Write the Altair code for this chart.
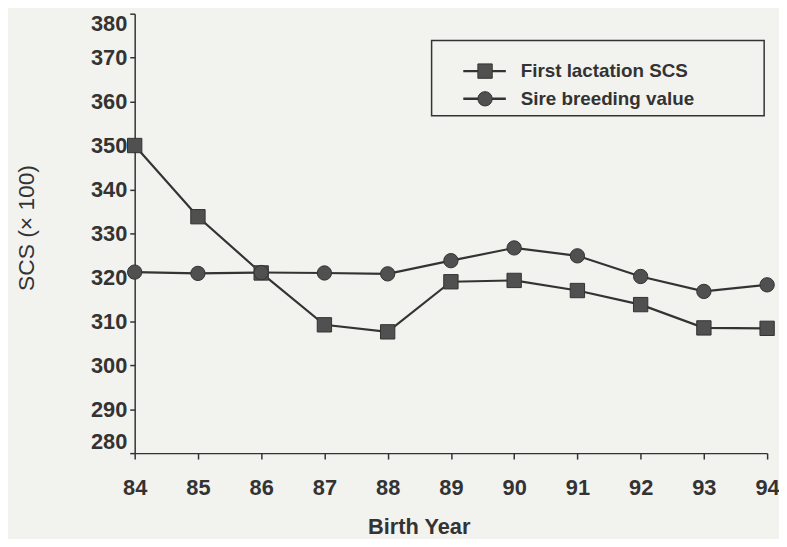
import altair as alt
import pandas as pd

years = [84, 85, 86, 87, 88, 89, 90, 91, 92, 93, 94]
first_lactation_scs = [350.0, 333.8, 321.0, 309.2, 307.6, 319.0, 319.3, 317.0, 313.8, 308.5, 308.4]
sire_breeding_value = [321.2, 320.9, 321.1, 321.0, 320.8, 323.8, 326.7, 324.9, 320.2, 316.8, 318.3]
series_names = ["First lactation SCS", "Sire breeding value"]
y_ticks = [280, 290, 300, 310, 320, 330, 340, 350, 360, 370, 380]

rows = []
for yr, v in zip(years, first_lactation_scs):
    rows.append({"year": yr, "scs": v, "series": series_names[0]})
for yr, v in zip(years, sire_breeding_value):
    rows.append({"year": yr, "scs": v, "series": series_names[1]})
df = pd.DataFrame(rows)
legend_df = pd.DataFrame({"series": series_names})

FONT = "Liberation Sans"
INK = "#333333"
MARK = "#505050"
BG = "#f2f2ef"

shape_scale = alt.Scale(domain=series_names, range=["square", "circle"])

x_enc = alt.X(
    "year:Q",
    scale=alt.Scale(domain=[84, 94], nice=False, zero=False),
    axis=alt.Axis(
        title="Birth Year", values=years, format="d", grid=False, labelFlush=False,
        tickSize=6, labelPadding=19, labelFontSize=22, labelFontWeight="bold",
        titleFontSize=22, titleFontWeight="bold", titlePadding=18,
        titleX=287, domainColor=INK, tickColor=INK, labelColor=INK, titleColor=INK,
        domainWidth=1.5, tickWidth=1.5, labelFont=FONT, titleFont=FONT,
    ),
)
y_enc = alt.Y(
    "scs:Q",
    scale=alt.Scale(domain=[280, 380], nice=False, zero=False),
    axis=alt.Axis(
        title="SCS (× 100)", values=y_ticks, grid=False, labelFlush=True,
        tickSize=5, labelPadding=3, labelFontSize=22, labelFontWeight="bold",
        titleFontSize=23, titleFontWeight="normal", titleX=-109, titleY=216,
        titleBaseline="middle", titleAngle=-90,
        domainColor=INK, tickColor=INK, labelColor=INK, titleColor=INK,
        domainWidth=1.5, tickWidth=1.5, labelFont=FONT, titleFont=FONT,
    ),
)

lines = alt.Chart(df).mark_line(color=INK, strokeWidth=2.2).encode(
    x=x_enc, y=y_enc, detail="series:N"
)

points = alt.Chart(df).mark_point(
    filled=True, color=MARK, stroke=INK, strokeWidth=1, size=210, opacity=1
).encode(
    x="year:Q", y="scs:Q",
    shape=alt.Shape("series:N", scale=shape_scale, legend=None),
)

main = alt.layer(lines, points)

# legend (drawn as its own small layer group)
leg_y = alt.Y("row:Q", scale=alt.Scale(domain=[0, 1], range=[58, 86], nice=False, zero=False), axis=None)
row_calc = "indexof(" + str(series_names) + ", datum.series)"

leg_box = alt.Chart(legend_df).mark_rect(
    fill=BG, stroke=INK, strokeWidth=1.5
).encode(
    x=alt.value(300), x2=alt.value(636), y=alt.value(27), y2=alt.value(103)
).transform_filter(alt.datum.series == series_names[0])

leg_line = alt.Chart(legend_df).mark_rule(color=INK, strokeWidth=2.4).encode(
    x=alt.value(332), x2=alt.value(375), y=leg_y
).transform_calculate(row=row_calc)

leg_mark = alt.Chart(legend_df).mark_point(
    filled=True, color=MARK, stroke=INK, strokeWidth=1, size=210, opacity=1
).encode(
    x=alt.value(354), y=leg_y,
    shape=alt.Shape("series:N", scale=shape_scale, legend=None),
).transform_calculate(row=row_calc)

leg_text = alt.Chart(legend_df).mark_text(
    align="left", baseline="middle", font=FONT, fontSize=19, fontWeight="bold", color=INK
).encode(
    x=alt.value(390), y=leg_y, text="series:N"
).transform_calculate(row=row_calc)

legend = alt.layer(leg_box, leg_line, leg_mark, leg_text)

chart = alt.layer(main, legend).resolve_scale(y="independent").properties(
    width=639, height=444,
    autosize=alt.AutoSizeParams(type="none"),
    padding={"left": 128, "top": 3, "right": 12, "bottom": 84},
    background=BG,
).configure_view(stroke=None)

chart.save("out.html", embed_options={"renderer": "svg", "actions": False})
